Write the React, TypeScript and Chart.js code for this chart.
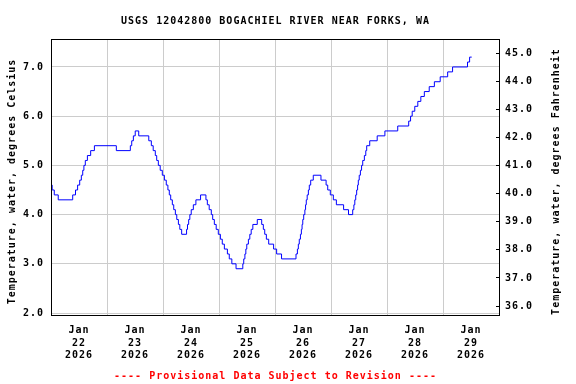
import React, { useEffect, useRef } from 'react';
import { Chart, registerables } from 'chart.js';

Chart.register(...registerables);

const TITLE = 'USGS 12042800 BOGACHIEL RIVER NEAR FORKS, WA';
const FOOTER = '---- Provisional Data Subject to Revision ----';
const LEFT_AXIS_TITLE = 'Temperature, water, degrees Celsius';
const RIGHT_AXIS_TITLE = 'Temperature, water, degrees Fahrenheit';

// Hours since 2026-01-22 00:00 at which the reading changes, and the new value (deg C)
const hoursSinceJan22 = [
  0, 0.5, 1.4, 3.1, 9.3, 10.5, 11.4, 12.3, 13.0, 13.6, 14.1, 14.7, 15.6, 17.0, 18.6,
  28.0, 34.0, 34.6, 35.3, 36.1, 37.6, 41.9, 43.0, 43.8, 44.7, 45.3, 46.0, 46.8, 47.7,
  48.6, 49.4, 50.1, 50.7, 51.3, 52.0, 52.6, 53.3, 53.9, 54.6, 55.2, 56.0, 58.1, 58.5,
  59.0, 59.5, 60.1, 61.0, 62.1, 64.1, 66.4, 67.0, 67.8, 68.7, 69.3, 70.0, 70.8, 71.7,
  72.6, 73.4, 74.3, 75.6, 76.4, 77.5, 79.3, 82.2, 82.6, 83.1, 83.5, 83.9, 84.6, 85.2,
  85.8, 86.5, 88.4, 90.3, 91.0, 91.6, 92.3, 93.3, 95.4, 96.7, 98.8, 105.0, 105.6, 106.0,
  106.4, 106.9, 107.3, 107.6, 107.9, 108.3, 108.8, 109.1, 109.4, 109.8, 110.3, 110.7,
  111.3, 112.4, 115.7, 117.9, 118.6, 119.7, 121.0, 122.3, 125.4, 127.5, 129.3, 129.8,
  130.2, 130.6, 131.0, 131.4, 131.7, 132.1, 132.6, 133.1, 133.6, 134.3, 134.9, 135.3,
  136.6, 139.8, 143.1, 148.6, 153.3, 154.1, 154.8, 155.9, 157.2, 158.5, 160.0, 162.1,
  164.3, 166.8, 170.0, 172.1, 178.5, 179.4, 180.3,
];
const waterTempC = [
  4.6, 4.5, 4.4, 4.3, 4.4, 4.5, 4.6, 4.7, 4.8, 4.9, 5.0, 5.1, 5.2, 5.3, 5.4,
  5.3, 5.4, 5.5, 5.6, 5.7, 5.6, 5.5, 5.4, 5.3, 5.2, 5.1, 5.0, 4.9, 4.8,
  4.7, 4.6, 4.5, 4.4, 4.3, 4.2, 4.1, 4.0, 3.9, 3.8, 3.7, 3.6, 3.7, 3.8,
  3.9, 4.0, 4.1, 4.2, 4.3, 4.4, 4.3, 4.2, 4.1, 4.0, 3.9, 3.8, 3.7, 3.6,
  3.5, 3.4, 3.3, 3.2, 3.1, 3.0, 2.9, 3.0, 3.1, 3.2, 3.3, 3.4, 3.5, 3.6,
  3.7, 3.8, 3.9, 3.8, 3.7, 3.6, 3.5, 3.4, 3.3, 3.2, 3.1, 3.2, 3.3, 3.4,
  3.5, 3.6, 3.7, 3.8, 3.9, 4.0, 4.1, 4.2, 4.3, 4.4, 4.5, 4.6,
  4.7, 4.8, 4.7, 4.6, 4.5, 4.4, 4.3, 4.2, 4.1, 4.0, 4.1, 4.2,
  4.3, 4.4, 4.5, 4.6, 4.7, 4.8, 4.9, 5.0, 5.1, 5.2, 5.3, 5.4,
  5.5, 5.6, 5.7, 5.8, 5.9, 6.0, 6.1, 6.2, 6.3, 6.4, 6.5, 6.6,
  6.7, 6.8, 6.9, 7.0, 7.1, 7.2, 7.2,
];

const tickMonth = 'Jan';
const tickYear = '2026';
const dayLabels = ['22', '23', '24', '25', '26', '27', '28', '29'];
const xTickHours = [0, 12, 24, 36, 48, 60, 72, 84, 96, 108, 120, 132, 144, 156, 168, 180, 192];
const celsiusTicks = [2, 3, 4, 5, 6, 7];
const fahrenheitTicks = [36, 37, 38, 39, 40, 41, 42, 43, 44, 45];

const FONT_FAMILY = '"DejaVu Sans Mono", monospace';
const LETTER_SPACING = '1px';

const setSpacing = (chart: any) => {
  try {
    (chart.ctx as any).letterSpacing = LETTER_SPACING;
  } catch (e) {}
};

const decorPlugin = {
  id: 'decor',
  beforeUpdate: setSpacing,
  beforeLayout: setSpacing,
  beforeDraw: setSpacing,
  afterDraw(chart: any) {
    const { ctx, chartArea } = chart;
    const { left, right, top, bottom } = chartArea;
    ctx.save();
    try { ctx.letterSpacing = LETTER_SPACING; } catch (e) {}
    // frame
    ctx.strokeStyle = '#000000';
    ctx.lineWidth = 1;
    ctx.strokeRect(left + 0.5, top + 0.5, right - left, bottom - top);
    // inside tick marks on right axis
    const y2 = chart.scales.y2;
    ctx.beginPath();
    for (const t of y2.ticks) {
      const py = Math.floor(y2.getPixelForValue(t.value)) + 0.5;
      ctx.moveTo(right - 3, py);
      ctx.lineTo(right + 0.5, py);
    }
    ctx.stroke();

    const cx = (left + right) / 2;
    ctx.font = `bold 10px ${FONT_FAMILY}`;
    ctx.textBaseline = 'alphabetic';
    ctx.textAlign = 'center';
    ctx.fillStyle = '#000000';
    ctx.fillText(TITLE, cx + 0.5, 24);
    ctx.fillStyle = '#ff0000';
    ctx.fillText(FOOTER, cx + 0.5, 379);

    ctx.fillStyle = '#000000';
    ctx.save();
    ctx.translate(14.5, 182);
    ctx.rotate(-Math.PI / 2);
    ctx.fillText(LEFT_AXIS_TITLE, 0.5, 0);
    ctx.restore();

    ctx.save();
    ctx.translate(559, 182);
    ctx.rotate(-Math.PI / 2);
    ctx.fillText(RIGHT_AXIS_TITLE, 0.5, 0);
    ctx.restore();

    ctx.restore();
  },
};

export default function App() {
  const canvasRef = useRef<HTMLCanvasElement | null>(null);

  useEffect(() => {
    const canvas = canvasRef.current;
    if (!canvas) return;
    const points = hoursSinceJan22.map((h, i) => ({ x: h, y: waterTempC[i] }));
    const tickFont = { family: FONT_FAMILY, size: 10, weight: 'bold' as const };

    const chart = new Chart(canvas, {
      type: 'line',
      data: {
        datasets: [
          {
            data: points,
            borderColor: '#0000ff',
            borderWidth: 1,
            pointRadius: 0,
            stepped: true,
            fill: false,
            xAxisID: 'x',
            yAxisID: 'y',
          },
        ],
      },
      options: {
        animation: false,
        responsive: false,
        devicePixelRatio: 1,
        layout: { padding: { top: 39, left: 0, right: 0, bottom: 0 } },
        plugins: {
          legend: { display: false },
          tooltip: { enabled: false },
          title: { display: false },
        },
        scales: {
          x: {
            type: 'linear',
            position: 'bottom',
            min: 0,
            max: 192,
            afterBuildTicks: (s: any) => {
              s.ticks = xTickHours.map((v) => ({ value: v }));
            },
            afterFit: (s: any) => {
              s.height = 69;
            },
            grid: {
              color: (c: any) =>
                c.tick && c.tick.value % 24 === 0 ? '#cccccc' : 'rgba(0,0,0,0)',
              lineWidth: 1,
              drawTicks: false,
            },
            border: { display: false },
            ticks: {
              autoSkip: false,
              maxRotation: 0,
              minRotation: 0,
              padding: 9,
              color: '#000000',
              font: { ...tickFont, lineHeight: 1.27 },
              callback: (value: any) => {
                const idx = (Number(value) - 12) / 24;
                if (Number.isInteger(idx) && idx >= 0 && idx < dayLabels.length) {
                  return [tickMonth, dayLabels[idx], tickYear];
                }
                return '';
              },
            },
          },
          y: {
            type: 'linear',
            position: 'left',
            min: 1.96,
            max: 7.568,
            afterBuildTicks: (s: any) => {
              s.ticks = celsiusTicks.map((v) => ({ value: v }));
            },
            afterFit: (s: any) => {
              s.width = 51;
            },
            grid: { color: '#cccccc', lineWidth: 1, drawTicks: false },
            border: { display: false },
            ticks: {
              padding: 7,
              color: '#000000',
              font: tickFont,
              callback: (v: any) => Number(v).toFixed(1),
            },
          },
          y2: {
            type: 'linear',
            position: 'right',
            min: 35.68,
            max: 45.51,
            afterBuildTicks: (s: any) => {
              s.ticks = fahrenheitTicks.map((v) => ({ value: v }));
            },
            afterFit: (s: any) => {
              s.width = 77;
            },
            grid: { drawOnChartArea: false, drawTicks: false },
            border: { display: false },
            ticks: {
              padding: 6,
              color: '#000000',
              font: tickFont,
              callback: (v: any) => Number(v).toFixed(1),
            },
          },
        },
      },
      plugins: [decorPlugin],
    });

    return () => {
      chart.destroy();
    };
  }, []);

  return (
    <div style={{ position: 'fixed', left: 0, top: 0, width: 576, height: 384, background: '#ffffff' }}>
      <canvas
        ref={canvasRef}
        width={576}
        height={384}
        style={{ display: 'block', width: 576, height: 384 }}
      />
    </div>
  );
}
